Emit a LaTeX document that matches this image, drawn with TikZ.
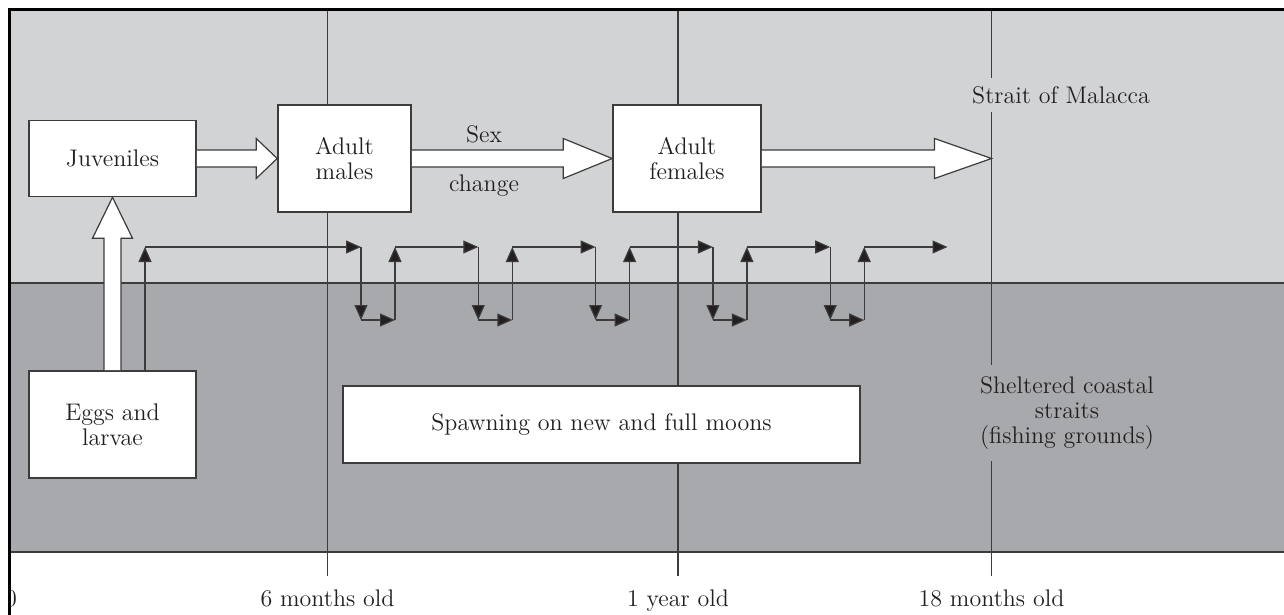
\documentclass[tikz,border=0pt]{standalone}
\usepackage{tikz}
\usetikzlibrary{arrows.meta,calc}

\definecolor{seagray}{HTML}{D1D3D4}
\definecolor{coastgray}{HTML}{A7A9AC}
\definecolor{inkgray}{HTML}{3C3C3C}
\definecolor{ink}{HTML}{231F20}

\tikzset{
  stage/.style={draw=inkgray,line width=0.8pt,fill=white,align=center,inner sep=0pt,text=ink},
  zonelabel/.style={align=center,text=ink,inner xsep=2pt},
  agelabel/.style={anchor=base,text=ink},
  hollow/.style={draw=inkgray,line width=0.6pt,fill=white,line join=miter},
  flow/.style={draw=inkgray,line width=0.6pt,-{Triangle[length=7.5pt,width=6.5pt,fill=ink]}},
  agebar/.style={draw=inkgray,line width=0.55pt}
}

\begin{document}
\begin{tikzpicture}[x=0.5pt,y=-0.5pt,font=\fontsize{12}{12.5}\selectfont]
	\useasboundingbox (0,0) rectangle (1284,615);
	\begin{scope}
		\clip (9.5,0) rectangle (1284,615);
		% the two zones
		\fill[seagray] (9,11) rectangle (1284,283);
		\fill[coastgray] (9,283) rectangle (1284,552);
		\draw[agebar] (9,283) -- (1284,283);
		\draw[agebar] (9,552) -- (1284,552);
		\foreach \x in {327.5,678,991.5}
			\draw[agebar] (\x,11) -- (\x,576);

		\node[zonelabel,fill=seagray,inner ysep=4pt] (malacca) at (1061,95) {Strait of Malacca};
		\node[zonelabel,fill=coastgray,inner ysep=6pt] (coast) at (1067,413) {Sheltered coastal\\straits\\(fishing grounds)};

		% life stages
		\node[stage,minimum width=83.5pt,minimum height=38pt] (juv) at (112.5,158.5) {Juveniles};
		\node[stage,minimum width=66.5pt,minimum height=53.5pt] (males) at (344.5,158.5) {Adult\\males};
		\node[stage,minimum width=74pt,minimum height=53.5pt] (females) at (687,158.5) {Adult\\females};
		\node[stage,minimum width=83.5pt,minimum height=53.5pt] (eggs) at (112.5,424.5) {Eggs and\\larvae};
		\node[stage,minimum width=258.5pt,minimum height=38.5pt] (spawn) at (601.5,424.5) {Spawning on new and full moons};
		\coordinate (month18) at (991.5,158.5);

		% growth arrows
		\foreach \a/\b/\h in {juv.east/males.west/21,males.east/females.west/49,females.east/month18/57}
			\filldraw[hollow] ($(\a)+(0,-8.5)$) -- ($(\b)+(-\h,-8.5)$) -- ($(\b)+(-\h,-20)$) -- (\b)
				-- ($(\b)+(-\h,20)$) -- ($(\b)+(-\h,8.5)$) -- ($(\a)+(0,8.5)$);
		\filldraw[hollow] ($(eggs.north)+(-8.5,0)$) -- ($(juv.south)+(-8.5,41)$) -- ($(juv.south)+(-20,41)$) -- (juv.south)
			-- ($(juv.south)+(20,41)$) -- ($(juv.south)+(8.5,41)$) -- ($(eggs.north)+(8.5,0)$);
		\node[text=ink] (sex) at (484,134) {Sex};
		\node[text=ink] (change) at (484,186) {change};

		% migrations to spawn
		\coordinate (start) at ($(eggs.north)+(32.5,0)$);
		\draw[flow] (start) -- (start |- 0,247);
		\draw[flow] (start |- 0,247) -- (361,247);
		\foreach \i in {0,...,4}{
			\pgfmathsetmacro\xd{361+117.3*\i}
			\pgfmathsetmacro\xu{\xd+34}
			\pgfmathsetmacro\xn{\xu+83.3}
			\draw[flow] (\xd,247) -- (\xd,320);
			\draw[flow] (\xd,320) -- (\xu,320);
			\draw[flow] (\xu,320) -- (\xu,247);
			\draw[flow] (\xu,247) -- (\xn,247);
		}

		% ages
		\node[agelabel] (age0) at (11,606) {0};
		\node[agelabel] (age6) at (327.5,606) {6 months old};
		\node[agelabel] (age12) at (678,606) {1 year old};
		\node[agelabel] (age18) at (991.5,606) {18 months old};
	\end{scope}
	\draw[black,line width=1.5pt] (9,615) -- (9,10) -- (1284,10);
\end{tikzpicture}
\end{document}
